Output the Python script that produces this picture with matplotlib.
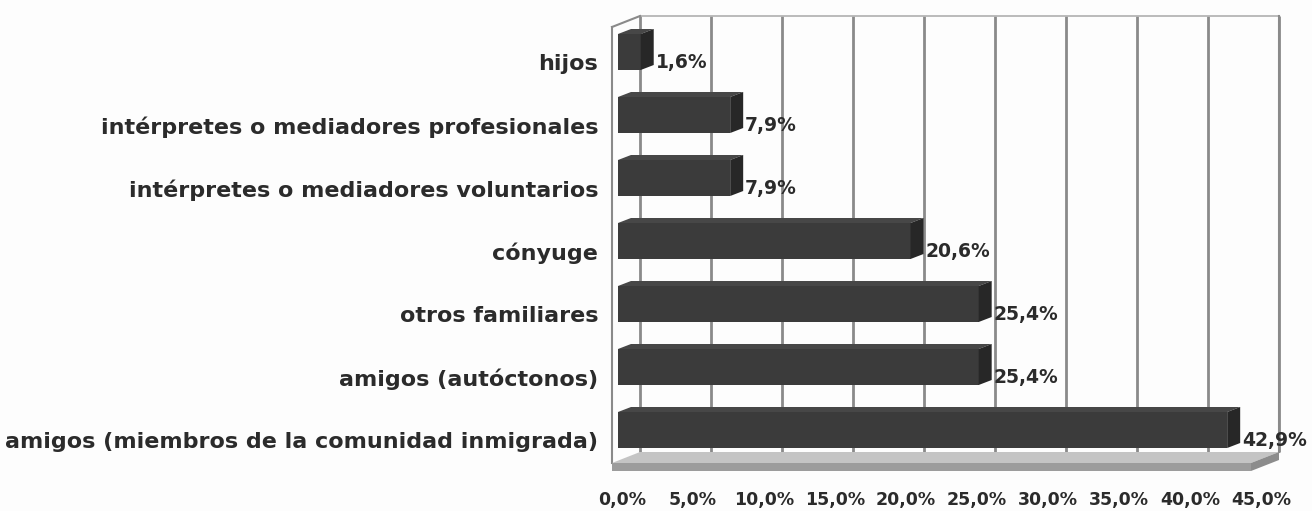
import matplotlib
matplotlib.use('Agg')
import matplotlib.pyplot as plt
import matplotlib.transforms as mtransforms
from matplotlib.patches import Polygon, Rectangle

# datos
categorias = ['hijos',
              'intérpretes o mediadores profesionales',
              'intérpretes o mediadores voluntarios',
              'cónyuge',
              'otros familiares',
              'amigos (autóctonos)',
              'amigos (miembros de la comunidad inmigrada)']
valores = [1.6, 7.9, 7.9, 20.6, 25.4, 25.4, 42.9]
ticks = [0, 5, 10, 15, 20, 25, 30, 35, 40, 45]
tick_labels = ['0,0%', '5,0%', '10,0%', '15,0%', '20,0%', '25,0%', '30,0%', '35,0%', '40,0%', '45,0%']

plt.rcParams['font.family'] = ['DejaVu Sans']
txt_color = '#2b2b2b'

W, H = 1312, 511
fig = plt.figure(figsize=(W / 100, H / 100), dpi=100, facecolor='#fdfdfd')

# plano frontal en pixeles
left_px, right_px = 612, 1251
top_px, bot_px = 27, 463
ax = fig.add_axes([left_px / W, (H - bot_px) / H, (right_px - left_px) / W, (bot_px - top_px) / H])
ax.set_facecolor('none')
xmin, xmax = 0, 45
ytop = (top_px - 52) / 63
ybot = (bot_px - 52) / 63
ax.set_xlim(xmin, xmax)
ax.set_ylim(ybot, ytop)

sx = (right_px - left_px) / (xmax - xmin)   # px por unidad x
sy = 63.0                                   # px por categoria

def px(dx, dy):
    # pixeles (dy hacia arriba) -> unidades de datos
    return dx / sx, -dy / sy

# profundidad del fondo
DX, DY = 28, 11
bdx, bdy = px(DX, DY)
back = mtransforms.offset_copy(ax.transData, fig=fig, x=DX, y=DY, units='dots')

# pared del fondo: lineas de cuadricula
ax.vlines(ticks, ybot, ytop, transform=back, colors='#8a8a8a', lw=2, zorder=1, clip_on=False)
ax.plot([xmin, xmax], [ytop, ytop], transform=back, color='#b0b0b0', lw=1.2, zorder=1, clip_on=False)

# pared izquierda
ax.plot([xmin, xmin], [ytop, ybot], color='#8a8a8a', lw=1.5, zorder=2, clip_on=False)
ax.plot([xmin, xmin + bdx], [ytop, ytop + bdy], color='#8a8a8a', lw=1.5, zorder=2, clip_on=False)

# suelo
th = 8 / sy
suelo_top = Polygon([(xmin, ybot), (xmax, ybot), (xmax + bdx, ybot + bdy), (xmin + bdx, ybot + bdy)],
                    closed=True, facecolor='#c4c4c4', edgecolor='none', zorder=2, clip_on=False)
suelo_front = Rectangle((xmin, ybot), xmax - xmin, th, facecolor='#9c9c9c', edgecolor='none',
                        zorder=2, clip_on=False)
suelo_side = Polygon([(xmax, ybot), (xmax + bdx, ybot + bdy), (xmax + bdx, ybot + bdy + th), (xmax, ybot + th)],
                     closed=True, facecolor='#8c8c8c', edgecolor='none', zorder=2, clip_on=False)
for p in (suelo_top, suelo_front, suelo_side):
    ax.add_patch(p)
ax.plot([xmax + bdx, xmax + bdx], [ytop + bdy, ybot + bdy], color='#8a8a8a', lw=1.5, zorder=1, clip_on=False)

# barras 3d
bx0, _ = px(6, 0)
cdx, cdy = px(13, 5)
h = 36 / sy
for i, v in enumerate(valores):
    y0 = i - h / 2
    y1 = i + h / 2
    x1 = bx0 + v
    ax.add_patch(Polygon([(bx0, y0), (bx0 + cdx, y0 + cdy), (x1 + cdx, y0 + cdy), (x1, y0)],
                         closed=True, facecolor='#474747', edgecolor='none', zorder=3, clip_on=False))
    ax.add_patch(Rectangle((bx0, y0), v, h, facecolor='#3b3b3b', edgecolor='none', zorder=4, clip_on=False))
    ax.add_patch(Polygon([(x1, y0), (x1 + cdx, y0 + cdy), (x1 + cdx, y1 + cdy), (x1, y1)],
                         closed=True, facecolor='#272727', edgecolor='none', zorder=4, clip_on=False))
    lbl = mtransforms.offset_copy(ax.transData, fig=fig, x=2, y=-10, units='dots')
    ax.text(x1 + cdx, i, f'{v:.1f}%'.replace('.', ','), transform=lbl, ha='left', va='center',
            fontsize=13.5, fontweight='bold', color=txt_color, zorder=5)

# etiquetas de categoria
ax.set_yticks(range(len(categorias)), categorias)
ax.tick_params(axis='y', length=0, pad=10, labelsize=16, labelcolor=txt_color)
down = mtransforms.ScaledTranslation(0, -0.10, fig.dpi_scale_trans)
for t in ax.get_yticklabels():
    t.set_fontweight('bold')
    t.set_transform(t.get_transform() + down)

# eje x
ax.set_xticks(ticks, tick_labels)
ax.tick_params(axis='x', length=0, pad=20, labelsize=12.5, labelcolor=txt_color)
right = mtransforms.ScaledTranslation(0.10, 0, fig.dpi_scale_trans)
for t in ax.get_xticklabels():
    t.set_fontweight('bold')
    t.set_transform(t.get_transform() + right)

for s in ax.spines.values():
    s.set_visible(False)

fig.savefig('out.png', dpi=100, facecolor=fig.get_facecolor())
